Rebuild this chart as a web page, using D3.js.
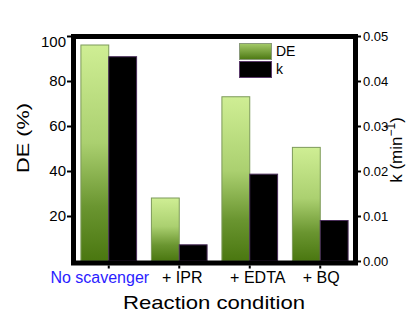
<!DOCTYPE html>
<html>
<head>
<meta charset="utf-8">
<script src="https://cdn.jsdelivr.net/npm/d3@7"></script>
<style>
  body { margin: 0; background: #fff; }
  text { font-family: "Liberation Sans", Arial, sans-serif; }
</style>
</head>
<body>
<div id="container"></div>
<script>
// values
const categories = ['No scavenger', '+ IPR', '+ EDTA', '+ BQ'];
const deValues = [96, 28, 73, 50.5];
const kValues = [0.0454, 0.0036, 0.0193, 0.009];
const leftTicks = [20, 40, 60, 80, 100];
const rightTicks = [0, 0.01, 0.02, 0.03, 0.04, 0.05];
const seriesNames = ['DE', 'k'];

const svgWidth = 412;
const svgHeight = 315;
const plotLeft = 73.5, plotRight = 355.5, plotTop = 36, plotBottom = 261;

const svg = d3.select('#container')
  .append('svg')
  .attr('width', svgWidth)
  .attr('height', svgHeight);

const defs = svg.append('defs');
const grad = defs.append('linearGradient')
  .attr('id', 'deGrad')
  .attr('x1', 0).attr('y1', 0).attr('x2', 0).attr('y2', 1);
grad.append('stop').attr('offset', 0).attr('stop-color', '#cfee94');
grad.append('stop').attr('offset', 0.45).attr('stop-color', '#abd070');
grad.append('stop').attr('offset', 0.75).attr('stop-color', '#6a9530');
grad.append('stop').attr('offset', 1).attr('stop-color', '#4a7710');

const legGrad = defs.append('linearGradient')
  .attr('id', 'legGrad')
  .attr('x1', 0).attr('y1', 0).attr('x2', 0).attr('y2', 1);
legGrad.append('stop').attr('offset', 0).attr('stop-color', '#a5cb6a');
legGrad.append('stop').attr('offset', 1).attr('stop-color', '#4c7812');

const xScale = d3.scaleBand()
  .domain(categories)
  .range([plotLeft, plotRight])
  .paddingInner(0.21)
  .paddingOuter(0.105);

const xSub = d3.scaleBand()
  .domain(seriesNames)
  .range([0, xScale.bandwidth()]);

const yLeft = d3.scaleLinear().domain([0, 100]).range([plotBottom, plotTop]);
const yRight = d3.scaleLinear().domain([0, 0.05]).range([plotBottom, plotTop]);

// bars
svg.selectAll('rect.de')
  .data(deValues)
  .enter()
  .append('rect')
  .attr('class', 'de')
  .attr('x', (d, i) => xScale(categories[i]) + xSub('DE'))
  .attr('y', d => yLeft(d))
  .attr('width', xSub.bandwidth())
  .attr('height', d => plotBottom - yLeft(d))
  .attr('fill', 'url(#deGrad)')
  .attr('stroke', '#7d9a5a')
  .attr('stroke-width', 1);

svg.selectAll('rect.k')
  .data(kValues)
  .enter()
  .append('rect')
  .attr('class', 'k')
  .attr('x', (d, i) => xScale(categories[i]) + xSub('k'))
  .attr('y', d => yRight(d))
  .attr('width', xSub.bandwidth())
  .attr('height', d => plotBottom - yRight(d))
  .attr('fill', '#000')
  .attr('stroke', '#4a2e5a')
  .attr('stroke-width', 1);

// thick frame
svg.append('rect')
  .attr('x', plotLeft)
  .attr('y', 36.5)
  .attr('width', plotRight - plotLeft)
  .attr('height', 263 - 36.5)
  .attr('fill', 'none')
  .attr('stroke', '#000')
  .attr('stroke-width', 5);

// left axis
const yAxisL = d3.axisLeft(yLeft).tickValues(leftTicks).tickSize(4).tickPadding(1);
const gL = svg.append('g').attr('transform', 'translate(71,0)').call(yAxisL);
gL.select('.domain').remove();
gL.selectAll('line').attr('stroke-width', 2);
gL.selectAll('text').style('font-size', '15px').attr('fill', '#000');
gL.selectAll('.tick text').filter(d => d === 100).attr('dy', '0.72em');

// right axis
const yAxisR = d3.axisRight(yRight).tickValues(rightTicks).tickSize(3).tickPadding(2)
  .tickFormat(d3.format('.2f'));
const gR = svg.append('g').attr('transform', 'translate(358,0)').call(yAxisR);
gR.select('.domain').remove();
gR.selectAll('line').attr('stroke-width', 2);
gR.selectAll('text').style('font-size', '13px').attr('fill', '#000');

// bottom axis
const labelShift = [-9, 3, 8, 1];
const xAxis = d3.axisBottom(xScale).tickSize(3).tickPadding(3);
const gB = svg.append('g').attr('transform', 'translate(0,265.5)').call(xAxis);
gB.select('.domain').remove();
gB.selectAll('line').attr('stroke-width', 2);
gB.selectAll('text')
  .style('font-size', '16px')
  .attr('dx', (d, i) => labelShift[i])
  .attr('fill', (d, i) => i === 0 ? '#2a1cff' : '#000');

// axis titles
svg.append('text')
  .attr('x', 214)
  .attr('y', 309)
  .attr('text-anchor', 'middle')
  .attr('textLength', 182)
  .attr('lengthAdjust', 'spacingAndGlyphs')
  .style('font-size', '19px')
  .text('Reaction condition');

svg.append('text')
  .attr('transform', 'translate(28.5,138) rotate(-90)')
  .attr('text-anchor', 'middle')
  .attr('textLength', 70)
  .attr('lengthAdjust', 'spacingAndGlyphs')
  .style('font-size', '17px')
  .text('DE (%)');

const kTitle = svg.append('text')
  .attr('transform', 'translate(402,150) rotate(-90)')
  .attr('text-anchor', 'middle')
  .style('font-size', '17px');
kTitle.append('tspan').text('k (min');
kTitle.append('tspan').attr('dy', -7).style('font-size', '12px').text('\u22121');
kTitle.append('tspan').attr('dy', 7).text(')');

// legend
const legend = svg.append('g');
legend.append('rect')
  .attr('x', 239.5).attr('y', 43.5).attr('width', 32).attr('height', 16)
  .attr('fill', 'url(#legGrad)').attr('stroke', '#8a9a7a');
legend.append('rect')
  .attr('x', 239.5).attr('y', 61.5).attr('width', 32).attr('height', 16)
  .attr('fill', '#000').attr('stroke', '#5a3a6a');
legend.append('text').attr('x', 276).attr('y', 56).style('font-size', '14px').text(seriesNames[0]);
legend.append('text').attr('x', 276).attr('y', 74).style('font-size', '14px').text(seriesNames[1]);
</script>
</body>
</html>
